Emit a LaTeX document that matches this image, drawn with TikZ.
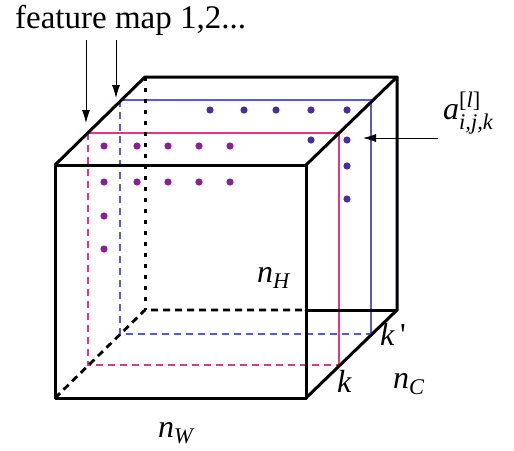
\documentclass[tikz,border=0pt]{standalone}
\usepackage{amsmath}
\usepackage{fontspec}
\setmainfont{LiberationSerif}[Extension=.ttf, UprightFont=*-Regular, ItalicFont=*-Italic, BoldFont=*-Bold, BoldItalicFont=*-BoldItalic]
\usetikzlibrary{arrows.meta}
\definecolor{pinkc}{RGB}{236,50,130}
\definecolor{bluec}{RGB}{90,90,205}
\definecolor{pdot}{RGB}{140,30,150}
\definecolor{bdot}{RGB}{70,45,160}
\tikzset{
  edge/.style={line width=3pt, line cap=round, line join=round},
  hidedash/.style={line width=2.8pt, dash pattern=on 7pt off 5pt},
  hidedot/.style={line width=3pt, dash pattern=on 4pt off 7pt},
  pinksolid/.style={pinkc, line width=2.5pt},
  bluesolid/.style={bluec, line width=2.5pt},
  pinkdash/.style={pinkc, line width=2.6pt, dash pattern=on 7pt off 5pt},
  bluedash/.style={bluec, line width=2.6pt, dash pattern=on 7pt off 5pt},
  pdotc/.style={fill=pdot, draw=none},
  bdotc/.style={fill=bdot, draw=none},
  ptr/.style={line width=0.8pt, -{Latex[length=13pt,width=8pt]}},
  lbl/.style={inner sep=0pt, anchor=base west, font=\fontsize{32}{38}\selectfont},
}
\begin{document}
\begin{tikzpicture}[x=1pt,y=-1pt]
\useasboundingbox (0,0) rectangle (514,450);
% front face
\coordinate (F1) at (55,165); \coordinate (F2) at (306,165);
\coordinate (F3) at (306,398); \coordinate (F4) at (55,398);
% back face
\coordinate (B1) at (145,77); \coordinate (B2) at (397,77);
\coordinate (B3) at (397,310); \coordinate (B4) at (145,310);
\coordinate (BX) at (306,310);
% pink feature map
\coordinate (P1) at (88,133); \coordinate (P2) at (339,133);
\coordinate (P3) at (339,365); \coordinate (P4) at (88,365);
% blue feature map
\coordinate (Q1) at (120,100); \coordinate (Q2) at (371,100);
\coordinate (Q3) at (371,334); \coordinate (Q4) at (120,334);

% blue map
\draw[bluedash] (Q1) -- (Q4) -- (Q3);
\draw[bluesolid] (Q1) -- (Q2) -- (Q3);
% pink map
\draw[pinkdash] (P1) -- (P4) -- (P3);
\draw[pinksolid] (P1) -- (P2) -- (P3);

% dots
\foreach \x in {104,137,168,199,230}{
  \fill[pdotc] (\x,146) circle (3.6pt);
  \fill[pdotc] (\x,182) circle (3.6pt);
}
\fill[pdotc] (104,216) circle (3.6pt);
\fill[pdotc] (104,249) circle (3.6pt);
\foreach \x in {210,244,276,311,347}{
  \fill[bdotc] (\x,110) circle (3.6pt);
}
\fill[bdotc] (311,140) circle (3.6pt);
\fill[bdotc] (347,140) circle (3.6pt);
\fill[bdotc] (347,166) circle (3.6pt);
\fill[bdotc] (347,199) circle (3.6pt);

% hidden edges
\draw[hidedot] (B1) -- (B4);
\draw[hidedash] (F4) -- (B4) -- (BX);
\draw[edge] (BX) -- (B3);

% visible edges
\draw[edge] (F1) rectangle (F3);
\draw[edge] (F1) -- (B1) -- (B2) -- (F2);
\draw[edge] (B2) -- (B3) -- (F3);

% labels
\node[lbl] (fm) at (15,28) {\fontsize{33}{38}\selectfont feature map 1,2...};
\coordinate (s1) at (86,40); \coordinate (t1) at (86,123);
\coordinate (s2) at (116,40); \coordinate (t2) at (116,98);
\draw[ptr] (s1) -- (t1);
\draw[ptr] (s2) -- (t2);

\node[lbl] (alab) at (443,119) {$\textit{a}^{\textup{[}\textit{l}\textup{]}}_{\textit{i,j,k}}$};
\coordinate (as) at (438,138); \coordinate (at) at (363,138);
\draw[ptr] (as) -- (at);

\node[lbl] (nh) at (257,282) {\textit{n}\textsubscript{\textit{H}}};
\node[lbl] (nw) at (158,437) {\textit{n}\textsubscript{\textit{W}}};
\node[lbl] (nc) at (393,388) {\textit{n}\textsubscript{\textit{C}}};
\node[lbl] (k) at (337,392) {\textit{k}};
\node[lbl] (kp) at (380,345) {\textit{k}\,\textquotesingle};
\end{tikzpicture}
\end{document}
